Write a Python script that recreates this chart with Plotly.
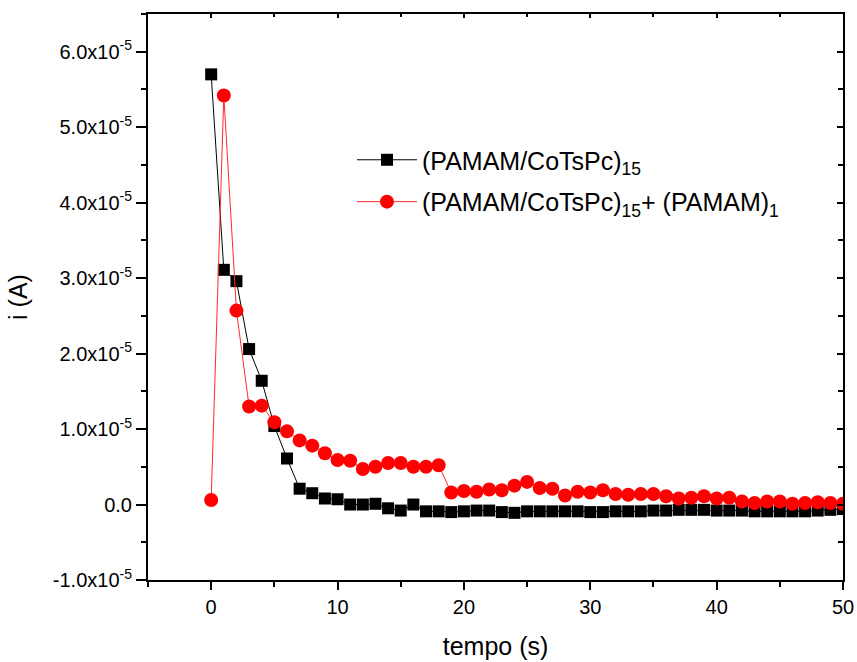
import plotly.graph_objects as go

# Time samples (s)
tempo = list(range(0, 51))

# Current (A) for (PAMAM/CoTsPc)15
i_pamam_cotspc = [
    5.70e-5, 3.11e-5, 2.96e-5, 2.06e-5, 1.64e-5, 1.04e-5, 0.61e-5, 0.21e-5, 0.15e-5, 0.08e-5,
    0.07e-5, 0.00e-5, 0.00e-5, 0.01e-5, -0.05e-5, -0.08e-5, 0.00e-5, -0.09e-5, -0.09e-5, -0.10e-5,
    -0.09e-5, -0.08e-5, -0.08e-5, -0.10e-5, -0.11e-5, -0.09e-5, -0.09e-5, -0.09e-5, -0.09e-5, -0.09e-5,
    -0.10e-5, -0.10e-5, -0.09e-5, -0.09e-5, -0.09e-5, -0.08e-5, -0.08e-5, -0.07e-5, -0.07e-5, -0.07e-5,
    -0.08e-5, -0.08e-5, -0.08e-5, -0.09e-5, -0.09e-5, -0.09e-5, -0.09e-5, -0.09e-5, -0.08e-5, -0.07e-5,
    -0.06e-5,
]

# Current (A) for (PAMAM/CoTsPc)15 + (PAMAM)1
i_pamam_cotspc_pamam = [
    0.06e-5, 5.42e-5, 2.57e-5, 1.30e-5, 1.31e-5, 1.09e-5, 0.97e-5, 0.85e-5, 0.78e-5, 0.68e-5,
    0.59e-5, 0.58e-5, 0.47e-5, 0.50e-5, 0.55e-5, 0.55e-5, 0.50e-5, 0.50e-5, 0.52e-5, 0.16e-5,
    0.18e-5, 0.17e-5, 0.20e-5, 0.19e-5, 0.25e-5, 0.30e-5, 0.22e-5, 0.21e-5, 0.12e-5, 0.17e-5,
    0.16e-5, 0.19e-5, 0.14e-5, 0.13e-5, 0.14e-5, 0.14e-5, 0.11e-5, 0.08e-5, 0.09e-5, 0.11e-5,
    0.08e-5, 0.09e-5, 0.04e-5, 0.02e-5, 0.04e-5, 0.04e-5, 0.01e-5, 0.02e-5, 0.03e-5, 0.02e-5,
    0.01e-5,
]

# Axis ticks
x_ticks = [0, 10, 20, 30, 40, 50]
x_minor = [-5, 5, 15, 25, 35, 45]
y_ticks = [-1e-5, 0, 1e-5, 2e-5, 3e-5, 4e-5, 5e-5, 6e-5]
y_ticklabels = ["-1.0x10<sup>-5</sup>", "0.0", "1.0x10<sup>-5</sup>", "2.0x10<sup>-5</sup>",
                "3.0x10<sup>-5</sup>", "4.0x10<sup>-5</sup>", "5.0x10<sup>-5</sup>",
                "6.0x10<sup>-5</sup>"]
y_minor = [-0.5e-5, 0.5e-5, 1.5e-5, 2.5e-5, 3.5e-5, 4.5e-5, 5.5e-5, 6.5e-5]

FONT = "Liberation Sans, Arial, sans-serif"
X_RANGE = [-5, 50]
Y_RANGE = [-1e-5, 6.5e-5]

fig = go.Figure()

fig.add_trace(go.Scatter(
    x=tempo, y=i_pamam_cotspc, mode="lines+markers",
    name="(PAMAM/CoTsPc)<sub>15</sub>",
    line=dict(color="black", width=1),
    marker=dict(symbol="square", size=12, color="black"),
    legend="legend",
))
fig.add_trace(go.Scatter(
    x=tempo, y=i_pamam_cotspc_pamam, mode="lines+markers",
    name="(PAMAM/CoTsPc)<sub>15</sub>+ (PAMAM)<sub>1</sub>",
    line=dict(color="#ff2a2a", width=1),
    marker=dict(symbol="circle", size=14, color="#ff0000"),
    legend="legend2",
))
# Empty trace so the top/right frame axes get drawn
fig.add_trace(go.Scatter(x=[None], y=[None], xaxis="x2", yaxis="y2",
                         showlegend=False, hoverinfo="skip"))

axis_common = dict(showgrid=False, zeroline=False, showline=True, automargin=False,
                   linecolor="black", linewidth=2, tickcolor="black", tickwidth=1.5)

legend_common = dict(xanchor="left", yanchor="middle", bgcolor="rgba(0,0,0,0)",
                     font=dict(size=25, family=FONT), itemwidth=60)

fig.update_layout(
    width=857, height=662,
    margin=dict(l=148, r=14, t=14, b=82, autoexpand=False),
    paper_bgcolor="white", plot_bgcolor="white",
    font=dict(family=FONT, color="black"),
    xaxis=dict(
        range=X_RANGE, tickmode="array", tickvals=x_ticks,
        ticks="outside", ticklen=8, ticklabeloverflow="allow",
        tickfont=dict(size=20),
        minor=dict(tickvals=x_minor, ticks="outside", ticklen=5, tickcolor="black", tickwidth=1.5),
        title=dict(text="tempo (s)", font=dict(size=25), standoff=20),
        **axis_common,
    ),
    yaxis=dict(
        range=Y_RANGE, tickmode="array", tickvals=y_ticks, ticktext=y_ticklabels,
        ticks="outside", ticklen=10,
        tickfont=dict(size=20),
        minor=dict(tickvals=y_minor, ticks="outside", ticklen=5, tickcolor="black", tickwidth=1.5),
        title=dict(text="i (A)", font=dict(size=25), standoff=18),
        **axis_common,
    ),
    xaxis2=dict(
        range=X_RANGE, overlaying="x", side="top", matches="x",
        tickmode="array", tickvals=x_ticks, ticks="inside", ticklen=4,
        showticklabels=False,
        minor=dict(tickvals=x_minor, ticks="inside", ticklen=3, tickcolor="black"),
        **axis_common,
    ),
    yaxis2=dict(
        range=Y_RANGE, overlaying="y", side="right", matches="y",
        tickmode="array", tickvals=y_ticks, ticks="inside", ticklen=6,
        showticklabels=False,
        minor=dict(tickvals=y_minor, ticks="inside", ticklen=5, tickcolor="black"),
        **axis_common,
    ),
    legend=dict(x=0.2935, y=0.742, **legend_common),
    legend2=dict(x=0.2935, y=0.668, **legend_common),
    showlegend=True,
)

fig.write_html("out.html")
